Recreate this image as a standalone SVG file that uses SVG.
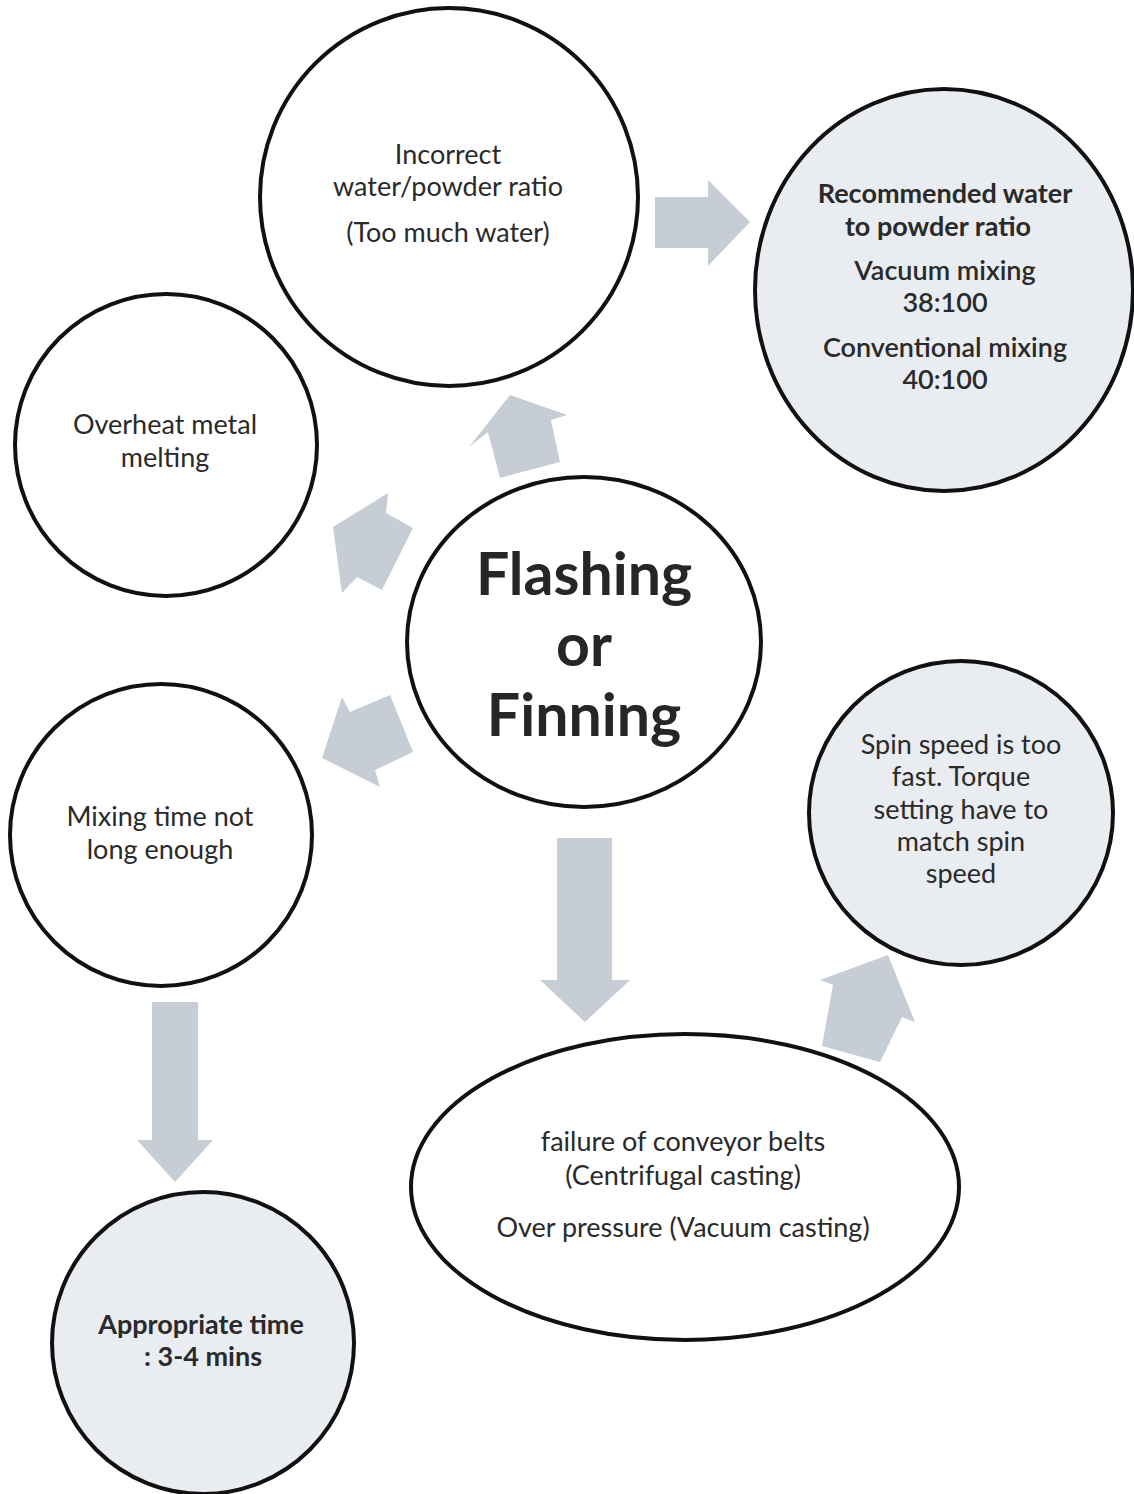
<svg xmlns="http://www.w3.org/2000/svg" width="1134" height="1494" viewBox="0 0 1134 1494">
<style>
.n{fill:#ffffff;stroke:#111;stroke-width:4}
.s{fill:#e9ecf0;stroke:#111;stroke-width:4}
.a{fill:#c6cdd5;stroke:none}
text{font-family:Lato,"Open Sans","Liberation Sans",sans-serif;fill:#2a2a2a;text-anchor:middle}
.t{font-size:27px}
.b{font-size:27px;font-weight:bold}
.big{font-size:59px;font-weight:bold;fill:#262626}
</style>
<rect width="1134" height="1494" fill="#ffffff"/>
<g id="connectors">
<polygon class="a" points="655,197 708,197 708,180 750,222 708,266 708,248 655,248"/>
<polygon class="a" points="510,395 567,415 551,420 560,462 500,478 488,432 469,447"/>
<polygon class="a" points="333,527 388,493 386,513 413,528 382,590 357,577 342,593"/>
<polygon class="a" points="322,758 342,697 350,712 390,695 413,752 375,770 380,787"/>
<polygon class="a" points="557,838 612,838 612,980 630,980 585,1022 540,980 557,980"/>
<polygon class="a" points="888,955 915,1022 902,1017 880,1062 822,1046 833,985 820,980"/>
<polygon class="a" points="152,1002 198,1002 198,1140 213,1140 175,1182 137,1140 152,1140"/>
</g>
<g id="incorrect">
<circle class="n" cx="449" cy="197" r="189"/>
<text class="t" x="448" y="164">Incorrect</text>
<text class="t" x="448" y="196">water/powder ratio</text>
<text class="t" x="448" y="242">(Too much water)</text>
</g>
<g id="recommended">
<ellipse class="s" cx="944" cy="290" rx="189" ry="201"/>
<text class="b" x="945" y="203">Recommended water</text>
<text class="b" x="938" y="236">to powder ratio</text>
<text class="t" x="945" y="280" style="font-weight:600">Vacuum mixing</text>
<text class="t" x="945" y="312" style="font-weight:600">38:100</text>
<text class="t" x="945" y="357" style="font-weight:600">Conventional mixing</text>
<text class="t" x="945" y="389" style="font-weight:600">40:100</text>
</g>
<g id="overheat">
<circle class="n" cx="166" cy="445" r="151"/>
<text class="t" x="165" y="434">Overheat metal</text>
<text class="t" x="165" y="467">melting</text>
</g>
<g id="flashing">
<ellipse class="n" cx="584" cy="642" rx="177" ry="165"/>
<text class="big" x="584" y="595">Flashing</text>
<text class="big" x="584" y="666">or</text>
<text class="big" x="584" y="736">Finning</text>
</g>
<g id="mixing">
<circle class="n" cx="161" cy="835" r="151"/>
<text class="t" x="160" y="826">Mixing time not</text>
<text class="t" x="160" y="859">long enough</text>
</g>
<g id="spin">
<circle class="s" cx="961" cy="813" r="152"/>
<text class="t" x="961" y="754">Spin speed is too</text>
<text class="t" x="961" y="786">fast. Torque</text>
<text class="t" x="961" y="819">setting have to</text>
<text class="t" x="961" y="851">match spin</text>
<text class="t" x="961" y="883">speed</text>
</g>
<g id="failure">
<ellipse class="n" cx="685" cy="1187" rx="274" ry="153"/>
<text class="t" x="683" y="1151">failure of conveyor belts</text>
<text class="t" x="683" y="1185">(Centrifugal casting)</text>
<text class="t" x="683" y="1237">Over pressure (Vacuum casting)</text>
</g>
<g id="appropriate">
<circle class="s" cx="203" cy="1343" r="151"/>
<text class="b" x="201" y="1334">Appropriate time</text>
<text class="b" x="203" y="1366">: 3-4 mins</text>
</g>
</svg>
